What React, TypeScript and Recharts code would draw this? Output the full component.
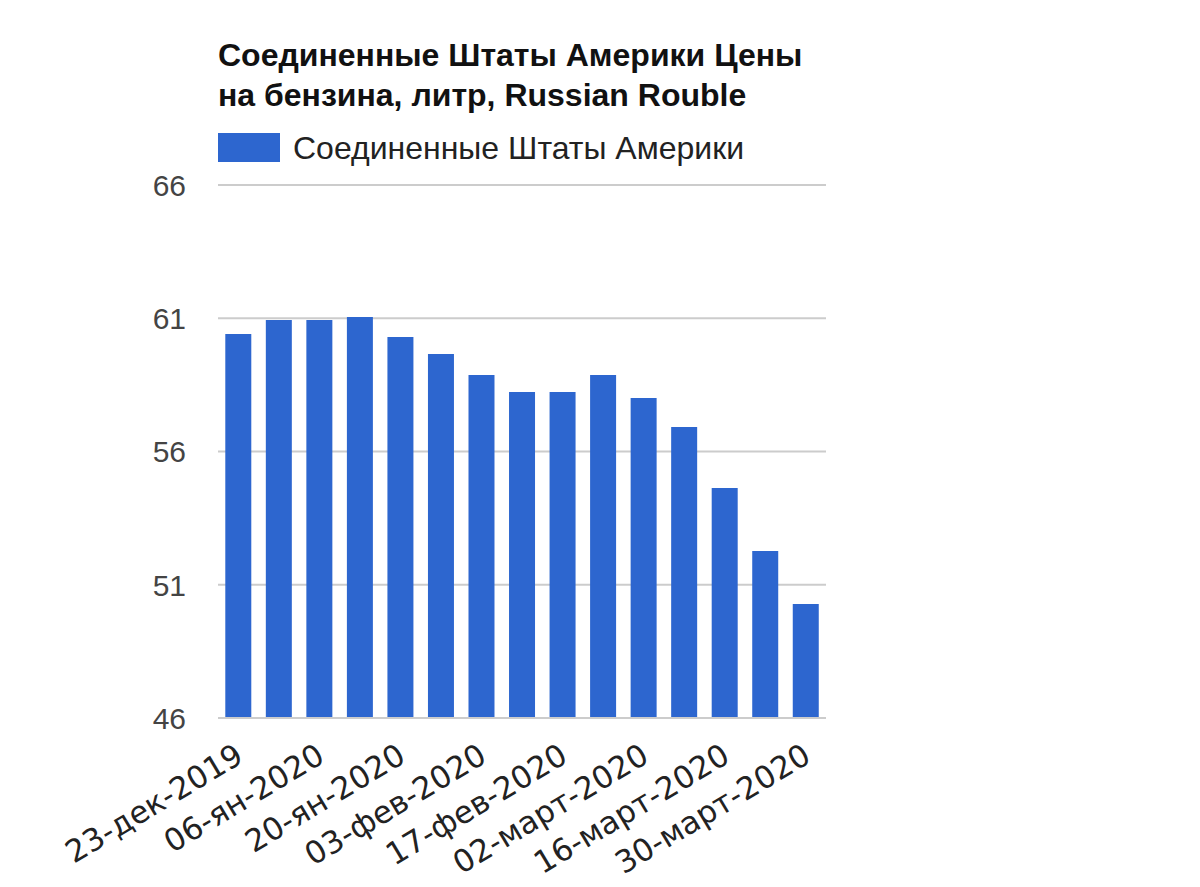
import { BarChart, Bar, XAxis, YAxis, CartesianGrid } from 'recharts';

const dates = [
  '23-дек-2019', '30-дек-2019', '06-ян-2020', '13-ян-2020', '20-ян-2020',
  '27-ян-2020', '03-фев-2020', '10-фев-2020', '17-фев-2020', '24-фев-2020',
  '02-март-2020', '09-март-2020', '16-март-2020', '23-март-2020', '30-март-2020'
];
const prices = [60.41, 60.93, 60.93, 61.05, 60.3, 59.66, 58.87, 58.23, 58.23, 58.87, 58.01, 56.92, 54.63, 52.27, 50.28];
const yTicks = [46, 51, 56, 61, 66];

const seriesName = 'Соединенные Штаты Америки';
const barColor = '#2d66cf';
const font = '"Liberation Sans", Arial, sans-serif';

const data = dates.map((d, i) => ({ date: d, value: prices[i] }));

function YTick(props: any) {
  const { y, payload } = props;
  return (
    <text x={186} y={y} dy="0.36em" textAnchor="end" fontSize={30} fill="#444" fontFamily={font}>
      {payload.value}
    </text>
  );
}

function XTick(props: any) {
  const { x, payload } = props;
  const ax = x + 7;
  const ay = 761;
  return (
    <text x={ax} y={ay} textAnchor="end" fontSize={31} fill="#222" fontFamily='"DejaVu Sans", Verdana, sans-serif' transform={`rotate(-31, ${ax}, ${ay})`}>
      {payload.value}
    </text>
  );
}

export default function App() {
  return (
    <div style={{ position: 'absolute', left: 0, top: 0, width: 1200, height: 887, background: '#fff', fontFamily: font }}>
      <div style={{ position: 'absolute', left: 218, top: 35, fontSize: 32, lineHeight: '40px', fontWeight: 'bold', color: '#111', whiteSpace: 'nowrap' }}>
        Соединенные Штаты Америки Цены<br />на бензина, литр, Russian Rouble
      </div>
      <div style={{ position: 'absolute', left: 218, top: 133, width: 62, height: 29, background: barColor }} />
      <div style={{ position: 'absolute', left: 293, top: 130, fontSize: 32, lineHeight: '36px', color: '#222', whiteSpace: 'nowrap' }}>
        {seriesName}
      </div>
      <div style={{ position: 'absolute', left: 0, top: 0 }}>
        <BarChart width={1200} height={887} data={data} margin={{ top: 185, right: 374, bottom: 0, left: 150 }} barCategoryGap="18%">
          <CartesianGrid vertical={false} stroke="#ccc" strokeWidth={2} />
          <XAxis dataKey="date" interval={1} height={169} tick={<XTick />} tickLine={false} axisLine={{ stroke: '#ccc', strokeWidth: 2 }} />
          <YAxis domain={[46, 66]} ticks={yTicks} width={68} tick={<YTick />} tickLine={false} axisLine={false} />
          <Bar dataKey="value" fill={barColor} isAnimationActive={false} name={seriesName} />
        </BarChart>
      </div>
    </div>
  );
}
